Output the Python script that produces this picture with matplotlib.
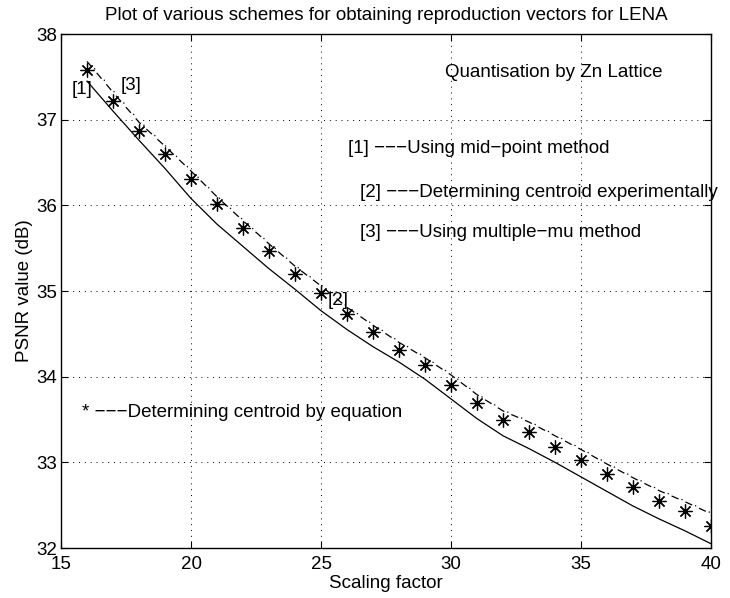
import numpy as np
import matplotlib
matplotlib.use("Agg")
import matplotlib.pyplot as plt

plt.rcParams['font.family'] = ['Liberation Sans', 'DejaVu Sans']

# scaling factors and PSNR (dB) for each scheme
scale = np.arange(16, 41)
psnr_midpoint = [37.45, 37.10, 36.76, 36.43, 36.08, 35.78, 35.52, 35.26, 35.02, 34.77,
                 34.55, 34.35, 34.17, 33.97, 33.74, 33.51, 33.31, 33.16, 33.00, 32.83,
                 32.66, 32.49, 32.34, 32.20, 32.05]
psnr_experimental = [37.68, 37.32, 36.97, 36.69, 36.40, 36.10, 35.82, 35.55, 35.29, 35.06,
                     34.81, 34.60, 34.40, 34.22, 34.02, 33.79, 33.60, 33.47, 33.31, 33.15,
                     32.98, 32.82, 32.67, 32.54, 32.40]
psnr_multimu = [37.70, 37.34, 36.99, 36.70, 36.41, 36.11, 35.83, 35.56, 35.30, 35.07,
                34.82, 34.61, 34.41, 34.23, 34.03, 33.80, 33.61, 33.48, 33.32, 33.16,
                32.99, 32.83, 32.68, 32.55, 32.41]
psnr_equation = [37.58, 37.22, 36.87, 36.60, 36.31, 36.01, 35.73, 35.47, 35.20, 34.98,
                 34.73, 34.52, 34.31, 34.14, 33.90, 33.69, 33.50, 33.36, 33.18, 33.03,
                 32.86, 32.71, 32.55, 32.43, 32.26]

fig = plt.figure(figsize=(7.3, 5.98), dpi=100)
ax = fig.add_axes([0.0836, 0.0836, 0.8904, 0.8595])

ax.plot(scale, psnr_midpoint, color='black', linewidth=0.9)
ax.plot(scale, psnr_experimental, color='black', linewidth=0.9, linestyle=(0, (6, 6)))
ax.plot(scale, psnr_multimu, color='black', linewidth=0.9, linestyle=(3, (1, 11)))
ax.plot(scale, psnr_equation, linestyle='none', marker=(8, 2, 0), markersize=10,
        markeredgewidth=0.9, color='black')

ax.set_xlim(15, 40)
ax.set_ylim(32, 38)
ax.set_xticks(np.arange(15, 41, 5))
ax.set_yticks(np.arange(32, 39, 1))
ax.tick_params(direction='in', top=True, right=True, labelsize=13.5, length=5, width=0.8,
               pad=3)
ax.tick_params(axis='x', pad=6)
ax.grid(True, linestyle=(0, (1, 5)), color='black', linewidth=0.7)
for sp in ax.spines.values():
    sp.set_linewidth(1.0)

fs = 13.5
ax.set_title('Plot of various schemes for obtaining reproduction vectors for LENA',
             fontsize=fs, pad=10)
ax.set_xlabel('Scaling factor', fontsize=fs, labelpad=1)
ax.set_ylabel('PSNR value (dB)', fontsize=fs, labelpad=2)

ax.text(29.77, 37.55, 'Quantisation by Zn Lattice', fontsize=fs, va='center')
ax.text(26.05, 36.66, '[1] \u2212\u2212\u2212Using mid\u2212point method', fontsize=fs, va='center')
ax.text(26.5, 36.15, '[2] \u2212\u2212\u2212Determining centroid experimentally', fontsize=fs,
        va='center', clip_on=False)
ax.text(26.5, 35.68, '[3] \u2212\u2212\u2212Using multiple\u2212mu method', fontsize=fs, va='center')
ax.text(15.8, 33.58, '* \u2212\u2212\u2212Determining centroid by equation', fontsize=fs, va='center')
ax.text(15.41, 37.35, '[1]', fontsize=fs, va='center')
ax.text(17.30, 37.40, '[3]', fontsize=fs, va='center')
ax.text(25.26, 34.89, '[2]', fontsize=fs, va='center')

fig.savefig('out.png', dpi=100)
